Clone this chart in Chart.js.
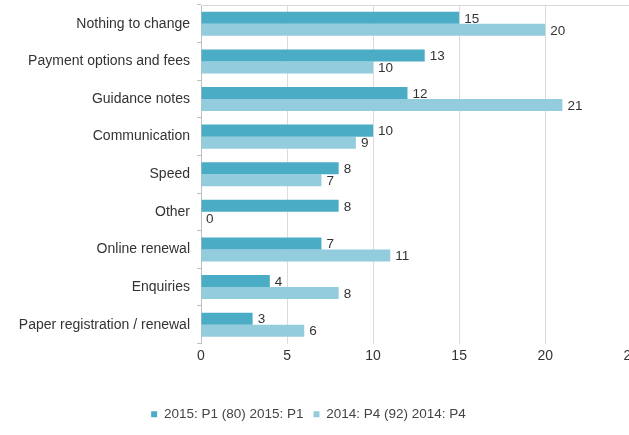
<!DOCTYPE html>
<html>
<head>
<meta charset="utf-8">
<script src="https://cdn.jsdelivr.net/npm/chart.js@4/dist/chart.umd.min.js"></script>
<style>
  html, body { margin: 0; padding: 0; background: #fff; overflow: hidden; }
  #wrap { width: 643px; height: 435px; position: relative; }
</style>
</head>
<body>
<div id="wrap"><canvas id="c"></canvas></div>
<script>
const categories = [
  'Nothing to change',
  'Payment options and fees',
  'Guidance notes',
  'Communication',
  'Speed',
  'Other',
  'Online renewal',
  'Enquiries',
  'Paper registration / renewal'
];
const seriesNames = ['2015: P1 (80) 2015: P1', '2014: P4 (92) 2014: P4'];
const values2015 = [15, 13, 12, 10, 8, 8, 7, 4, 3];
const values2014 = [20, 10, 21, 9, 7, 0, 11, 8, 6];
const xTicks = [0, 5, 10, 15, 20, 25];

const FONT = '"Liberation Sans", Arial, sans-serif';

// Writes each bar's value just past its end
const valueLabels = {
  id: 'valueLabels',
  afterDatasetsDraw(chart) {
    const ctx = chart.ctx;
    ctx.save();
    ctx.font = '13.5px ' + FONT;
    ctx.fillStyle = '#333';
    ctx.textAlign = 'left';
    ctx.textBaseline = 'middle';
    chart.data.datasets.forEach((ds, i) => {
      chart.getDatasetMeta(i).data.forEach((bar, j) => {
        ctx.fillText(String(ds.data[j]), bar.x + 5, bar.y + 1);
      });
    });
    ctx.restore();
  }
};

// Thin line along the top of the plot area; legend nudged left
const frame = {
  id: 'frame',
  afterLayout(chart) {
    chart.legend.right -= 26;
  },
  beforeDatasetsDraw(chart) {
    const { ctx, chartArea } = chart;
    ctx.save();
    ctx.strokeStyle = '#d9d9d9';
    ctx.lineWidth = 1;
    ctx.beginPath();
    ctx.moveTo(chartArea.left, chartArea.top + 0.5);
    ctx.lineTo(chartArea.right, chartArea.top + 0.5);
    ctx.stroke();
    ctx.restore();
  }
};

new Chart(document.getElementById('c'), {
  type: 'bar',
  data: {
    labels: categories,
    datasets: [
      { label: seriesNames[0], data: values2015, backgroundColor: '#4bacc6' },
      { label: seriesNames[1], data: values2014, backgroundColor: '#93cddd' }
    ]
  },
  options: {
    indexAxis: 'y',
    responsive: true,
    maintainAspectRatio: false,
    animation: false,
    datasets: { bar: { categoryPercentage: 0.64, barPercentage: 1.0 } },
    layout: { padding: { top: 5, bottom: 4, left: 0, right: 0 } },
    scales: {
      x: {
        min: 0,
        max: 25,
        afterBuildTicks(scale) { scale.ticks = xTicks.map(v => ({ value: v })); },
        afterFit(scale) { scale.height = 54; },
        grid: { color: '#dcdcdc', drawTicks: false },
        border: { display: false },
        ticks: { font: { size: 14, family: FONT }, color: '#333', padding: 4 }
      },
      y: {
        afterFit(scale) {
          scale.width = 201;
          scale.paddingTop = 0;
          scale.paddingBottom = 0;
        },
        grid: { drawOnChartArea: false, drawTicks: true, tickLength: 4, color: '#bfbfbf', offset: true },
        border: { display: true, color: '#bfbfbf' },
        ticks: { font: { size: 14, family: FONT }, color: '#333', padding: 7 }
      }
    },
    plugins: {
      legend: {
        position: 'bottom',
        labels: {
          boxWidth: 6,
          boxHeight: 6,
          padding: 10,
          font: { size: 13.5, family: FONT },
          color: '#444'
        }
      },
      tooltip: { enabled: false }
    }
  },
  plugins: [valueLabels, frame]
});
</script>
</body>
</html>
